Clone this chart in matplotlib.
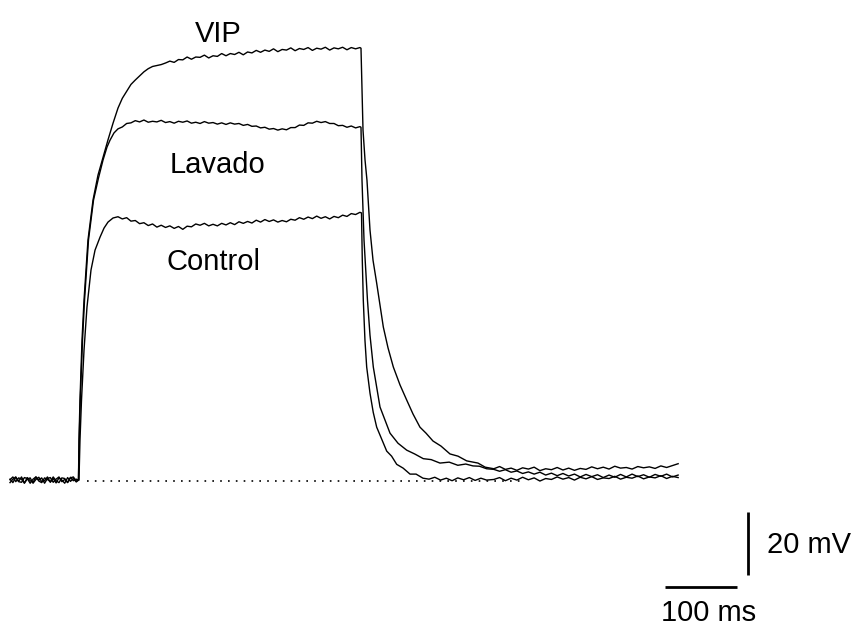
# -*- coding: utf-8 -*-
"""
Membrane potential response to a depolarising step: Control, VIP and washout (Lavado).
Traces drawn without axes, with a 20 mV / 100 ms scale bar.
"""

import matplotlib.pyplot as plt

# ========== Data (time in ms, potential in mV relative to rest) ==========
# shared sample times before the step
t_pre = [0, 4, 8, 12, 16, 20, 24, 28, 32, 36, 40, 44, 48, 52, 56, 60,
         64, 68, 72, 76, 80, 84, 88, 92]
# shared sample times during the step plateau
t_step = [150, 156, 162, 168, 174, 180, 186, 192, 198, 204, 210, 216, 222,
          228, 234, 240, 246, 252, 258, 264, 270, 276, 282, 288, 294, 300,
          306, 312, 318, 324, 330, 336, 342, 348, 354, 360, 366, 372, 378,
          384, 390, 396, 402, 408, 414, 420, 426, 432, 438, 444, 450, 456,
          462, 468, 474, 480, 486]
# shared sample times of the late tail
t_late = [672, 680, 688, 696, 704, 712, 720, 728, 736, 744, 752, 760, 768,
          776, 784, 792, 800, 808, 816, 824, 832, 840, 848, 856, 864, 872,
          880, 888, 896, 904, 912, 920, 928]

# --- VIP ---
vip_pre = [0.3, -0.8, 0.9, -0.4, 1.0, -0.9, 0.3, 0.7, -1.0, 0.2, 0.9, -0.5,
           -0.2, 1.0, -0.7, 0.5, -0.9, 0.7, 0.0, -1.0, 0.8, -0.4, 0.5, -0.6]
vip_rise_t = [95.1, 95.8, 97.2, 100.0, 102.8, 108.3, 115.3, 122.2, 129.2,
              136.1, 143.1]
vip_rise_v = [0.0, 12.7, 25.4, 44.4, 57.1, 76.2, 88.9, 96.8, 102.5, 108.0,
              113.3]
vip_step = [118.1, 121.2, 123.4, 125.6, 127.0, 128.3, 129.6, 130.6, 131.3,
            131.6, 131.9, 132.4, 133.0, 132.6, 133.5, 133.4, 134.3, 133.6,
            134.3, 134.2, 134.9, 134.0, 134.7, 134.5, 135.4, 134.7, 135.4,
            135.1, 135.8, 135.0, 135.9, 135.6, 136.4, 135.8, 136.5, 136.1,
            136.9, 136.0, 136.7, 136.5, 137.2, 136.3, 137.0, 136.7, 137.3,
            136.4, 137.1, 136.8, 137.4, 136.5, 137.2, 136.9, 137.4, 136.6,
            137.3, 136.9, 137.3]
vip_decay_t = [487.5, 488.9, 490.3, 493.1, 495.8, 500.0, 504.2, 509.3, 513.9,
               518.5, 525.0, 532.4, 541.7, 551.0, 559.7, 569.4, 577.8, 587.5,
               598.6, 611.1, 622.2, 634.3, 650.0, 660.0]
vip_decay_v = [137.1, 124.0, 111.1, 101.6, 95.2, 79.4, 69.8, 62.5, 55.6,
               48.6, 42.0, 35.9, 30.2, 25.4, 21.0, 16.8, 14.9, 12.4, 10.8,
               8.3, 7.6, 6.1, 5.4, 4.1]
vip_late = [3.6, 4.3, 3.4, 3.8, 3.1, 3.9, 3.5, 4.1, 3.0, 3.6, 3.3, 4.0, 3.2,
            3.8, 3.1, 3.7, 3.4, 4.2, 3.6, 4.1, 3.5, 4.4, 3.8, 4.0, 3.5, 4.3,
            3.9, 4.2, 3.7, 4.5, 4.0, 4.6, 5.2]

# --- Lavado (washout) ---
lav_pre = [-0.8, 0.3, 1.0, -0.5, -0.7, 0.8, 0.5, -1.0, 0.3, 1.0, -0.3, -0.8,
           0.7, 0.2, -0.5, 1.0, -0.2, -0.8, 0.7, 0.5, -0.7, 0.9, -0.2, 0.3]
lav_rise_t = [95.1, 96.1, 97.6, 100.7, 103.5, 109.0, 116.0, 122.9, 129.2,
              134.7, 138.9, 144.4]
lav_rise_v = [0.0, 12.7, 25.4, 44.4, 57.1, 76.2, 88.9, 95.9, 101.6, 105.7,
              107.9, 110.2]
lav_step = [111.5, 112.1, 113.2, 113.4, 114.1, 113.7, 114.3, 113.6, 113.9,
            113.7, 114.2, 113.5, 113.8, 113.3, 113.9, 113.6, 114.0, 113.3,
            113.6, 113.2, 113.8, 113.3, 113.5, 113.0, 113.4, 112.9, 113.4,
            113.0, 113.2, 112.6, 112.9, 112.3, 112.4, 111.8, 112.0, 111.4,
            111.6, 111.1, 111.5, 111.2, 111.9, 111.9, 112.7, 112.6, 113.4,
            113.3, 113.9, 113.5, 113.8, 113.2, 113.2, 112.5, 112.6, 112.0,
            112.4, 111.8, 112.2]
lav_decay_t = [487.5, 488.9, 491.7, 496.5, 500.0, 504.6, 513.9, 527.8, 538.9,
               551.0, 562.0, 574.0, 585.0, 597.2, 610.0, 622.0, 633.0, 643.0,
               652.0, 662.0]
lav_decay_v = [112.0, 95.2, 76.2, 57.1, 46.0, 35.9, 23.2, 14.9, 11.7, 9.5,
               8.3, 6.8, 6.5, 5.4, 5.7, 4.7, 5.1, 4.5, 4.4, 3.6]
lav_late = [3.4, 2.8, 3.3, 2.5, 2.9, 2.1, 2.6, 1.9, 2.5, 1.6, 2.2, 1.4, 2.1,
            1.3, 1.9, 1.0, 1.8, 1.1, 1.7, 0.8, 1.6, 0.9, 1.8, 1.0, 1.9, 1.1,
            1.7, 0.9, 1.8, 1.2, 1.9, 1.0, 1.6]

# --- Control ---
ctl_pre = [0.1, 1.0, -0.5, 0.7, 0.3, -1.0, 0.8, -0.2, -0.7, 1.0, 0.0, 0.7,
           -1.0, 0.5, 0.8, -0.7, 0.3, 1.0, -0.5, 0.2, -0.8, 0.7, 1.0, -0.3]
ctl_rise_t = [95.8, 97.2, 99.3, 102.8, 106.9, 112.5, 118.1, 125.0, 130.6,
              136.1, 143.1]
ctl_rise_v = [0.0, 12.7, 25.4, 41.3, 54.9, 66.7, 73.0, 77.1, 80.0, 81.9,
              83.2]
ctl_step = [83.6, 82.9, 83.3, 82.2, 82.4, 81.4, 81.7, 80.8, 81.3, 80.3, 80.9,
            80.2, 80.7, 79.9, 80.5, 79.6, 80.6, 80.4, 81.3, 80.9, 81.5, 80.7,
            81.2, 80.7, 81.5, 81.0, 81.7, 81.1, 82.0, 81.5, 82.1, 81.6, 82.5,
            81.9, 82.7, 82.1, 82.6, 81.9, 82.4, 82.0, 82.8, 82.5, 83.3, 82.8,
            83.5, 83.0, 83.8, 83.1, 83.6, 82.9, 83.7, 83.3, 84.1, 83.7, 84.6,
            84.3, 85.0]
ctl_decay_t = [488.2, 489.3, 490.7, 493.0, 495.4, 500.0, 504.5, 509.3, 516.0,
               523.2, 530.0, 537.1, 546.0, 555.6, 564.0, 573.6, 582.0, 590.0,
               598.0, 606.0, 614.0, 622.0, 630.0, 638.0, 646.0, 654.0, 662.0]
ctl_decay_v = [84.8, 69.8, 57.1, 44.4, 35.9, 27.6, 21.5, 16.8, 13.1, 9.2, 7.6,
               5.0, 3.8, 1.9, 1.9, 0.6, 0.3, 0.9, 0.0, 0.6, -0.2, 0.7, 0.1,
               0.8, -0.1, 0.6, 0.0]
ctl_late = [0.2, 0.8, -0.2, 0.6, 0.0, 0.9, 0.1, 0.7, -0.3, 0.5, 0.2, 1.0, 0.3,
            0.8, 0.0, 0.9, 0.4, 1.1, 0.2, 0.7, 0.5, 1.2, 0.3, 0.9, 0.6, 1.3,
            0.4, 1.0, 0.7, 1.4, 0.5, 1.2, 0.8]

traces = {
    "VIP": (t_pre + vip_rise_t + t_step + vip_decay_t + t_late,
            vip_pre + vip_rise_v + vip_step + vip_decay_v + vip_late),
    "Lavado": (t_pre + lav_rise_t + t_step + lav_decay_t + t_late,
               lav_pre + lav_rise_v + lav_step + lav_decay_v + lav_late),
    "Control": (t_pre + ctl_rise_t + t_step + ctl_decay_t + t_late,
                ctl_pre + ctl_rise_v + ctl_step + ctl_decay_v + ctl_late),
}

# label positions (ms, mV) – text baseline
labels = {"VIP": (289.6, 139.0), "Lavado": (288.2, 97.5), "Control": (282.6, 66.7)}

# ========== Plot ==========
plt.rcParams["font.family"] = ["Liberation Sans", "DejaVu Sans"]

fig = plt.figure(figsize=(8.59, 6.25), dpi=100)
ax = fig.add_axes([0, 0, 1, 1])
ax.set_xlim(-13.9, 1179.2)
ax.set_ylim(-46.0, 152.4)
ax.axis("off")

for name, (t, v) in traces.items():
    ax.plot(t, v, color="black", lw=1.0, solid_joinstyle="round")
    lx, ly = labels[name]
    ax.text(lx, ly, name, fontsize=21, ha="center", va="baseline")

# resting level
ax.plot([107, 715], [-0.3, -0.3], color="black", lw=1.2,
        linestyle=(0, (1, 3.7)))

# scale bar: 100 ms / 20 mV
ax.plot([910, 1010], [-34.0, -34.0], color="black", lw=2.0, solid_capstyle="butt")
ax.plot([1025, 1025], [-30, -10], color="black", lw=2.0, solid_capstyle="butt")
ax.text(1051, -23.2, "20 mV", fontsize=21, ha="left", va="baseline")
ax.text(970, -44.6, "100 ms", fontsize=21, ha="center", va="baseline")

fig.savefig("out.png", dpi=100)
